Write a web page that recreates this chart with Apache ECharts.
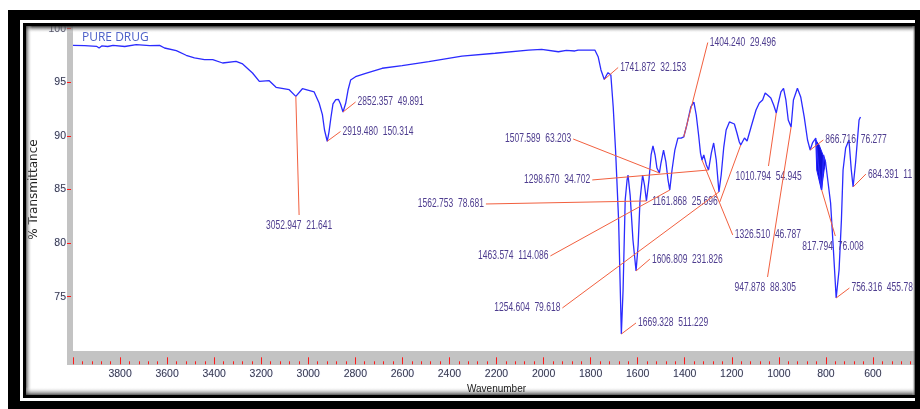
<!DOCTYPE html>
<html>
<head>
<meta charset="utf-8">
<title>PURE DRUG – IR spectrum</title>
<script src="https://cdn.jsdelivr.net/npm/echarts@6/dist/echarts.min.js"></script>
<style>
  html, body { margin: 0; padding: 0; background: #ffffff; }
  #chart { width: 920px; height: 409px; }
</style>
</head>
<body>
<div id="chart"></div>
<script>
// IR spectrum of the pure drug: wavenumber (cm-1) and % transmittance
const wavenumber = [
  4000, 3950, 3900, 3889, 3878, 3852, 3830, 3780, 3731, 3674, 3632, 3611, 3561, 3519, 3484,
  3441, 3406, 3364, 3307, 3279, 3237, 3208, 3166, 3137, 3081, 3052.947, 3025, 2975, 2954, 2940,
  2931, 2919.480, 2912, 2904, 2895, 2883, 2872, 2863, 2852.357, 2841, 2831, 2820, 2799, 2756, 2686,
  2601, 2488, 2347, 2206, 2064, 2008, 1937, 1903, 1867, 1853, 1782, 1768, 1756, 1741.872, 1732,
  1726, 1714, 1704, 1694, 1681, 1669.328, 1662, 1653, 1645, 1641, 1632, 1620, 1606.809, 1598, 1590,
  1579, 1571, 1562.753, 1552, 1543, 1535, 1526, 1518, 1507.589, 1501, 1490, 1480, 1471, 1463.574, 1454,
  1442, 1429, 1415, 1404.240, 1391, 1374, 1361, 1351, 1341, 1333, 1326.510, 1319, 1308, 1298.670, 1287,
  1277, 1266, 1254.604, 1245, 1234, 1224, 1210, 1189, 1178, 1168, 1161.868, 1146, 1135, 1118, 1097,
  1083, 1069, 1058, 1048, 1034, 1022, 1010.794, 1002, 991, 980, 970, 960, 947.878, 938, 921,
  907, 892, 878, 866.716, 857, 843, 832, 817.794, 810, 801, 780, 768, 756.316, 744, 734,
  727, 716, 702, 692, 684.391, 674, 659, 653
];
const transmittance = [
  98.45, 98.43, 98.36, 98.20, 98.39, 98.34, 98.45, 98.34, 98.51, 98.43, 98.45, 98.20, 97.95, 97.52, 97.27,
  97.11, 97.11, 96.80, 96.96, 96.71, 95.87, 95.09, 95.15, 94.53, 94.31, 93.69, 94.40, 94.10, 93.07, 91.98,
  90.55, 89.50, 90.36, 91.67, 92.98, 93.38, 93.41, 92.98, 92.23, 93.04, 94.28, 95.21, 95.52, 95.84, 96.31,
  96.55, 96.92, 97.45, 97.71, 98.01, 98.08, 97.85, 97.97, 97.92, 98.01, 98.01, 97.39, 96.15, 95.26, 95.68,
  95.90, 95.68, 92.72, 88.68, 82.15, 71.52, 75.62, 84.02, 85.89, 86.35, 84.48, 80.29, 77.40, 79.82, 84.02,
  86.35, 85.42, 83.93, 85.89, 88.22, 89.06, 88.22, 87.00, 86.54, 87.47, 88.68, 87.57, 85.89, 84.95, 86.82,
  88.68, 89.80, 89.80, 89.90, 91.02, 92.70, 93.16, 91.95, 90.08, 88.40, 87.75, 88.22, 87.29, 86.82, 88.40,
  89.34, 87.75, 84.77, 86.35, 88.96, 90.55, 91.30, 91.11, 90.27, 89.43, 89.15, 89.80, 89.52, 90.83, 92.42,
  93.07, 93.35, 94.00, 93.82, 93.54, 92.88, 92.14, 93.07, 94.10, 94.44, 93.35, 91.48, 90.83, 93.35, 94.44,
  93.63, 91.76, 89.62, 88.68, 89.34, 89.80, 87.29, 84.95, 88.22, 87.47, 83.74, 79.36, 74.88, 77.49, 82.15,
  86.82, 88.87, 89.62, 86.82, 85.23, 87.47, 91.48, 91.76
];

// filled wedge under the 866/818 doublet
const shadedWn = [843.1, 838.9, 819.0, 807.5, 800.8, 828.7];
const shadedT  = [89.62, 86.82, 84.95, 86.82, 87.57, 89.15];

// peak picks: wavenumber and the value printed beside it
const peakWn = [
  3052.947, 2919.480, 2852.357, 1741.872, 1404.240, 1507.589, 1298.670, 1562.753, 1161.868, 1463.574,
  1606.809, 1669.328, 1254.604, 1326.510, 1010.794, 947.878, 866.716, 817.794, 756.316, 684.391
];
const peakArea = [
  '21.641', '150.314', '49.891', '32.153', '29.496', '63.203', '34.702', '78.681', '25.696', '114.086',
  '231.826', '511.229', '79.618', '46.787', '54.945', '88.305', '76.277', '76.008', '455.78', '11'
];
// where each leader line ends, in axis units
const noteEndWn = [
  3039, 2863, 2799, 1683, 1302, 1874, 1793, 2245, 1251, 1971,
  1548, 1607, 1920, 1196, 1044, 1048, 811, 760, 700, 630
];
const noteEndT = [
  82.62, 90.41, 93.16, 96.38, 98.71, 89.71, 85.89, 83.65, 83.83, 78.80,
  78.51, 72.55, 73.95, 80.76, 87.19, 76.84, 89.62, 80.66, 75.81, 86.44
];
// which side of the leader end the text sits on
const noteSide = [
  'top', 'left', 'left', 'left', 'left', 'right', 'right', 'right', 'right', 'right',
  'left', 'left', 'right', 'left', 'top', 'top', 'left', 'top', 'left', 'left'
];

const NARROW = '"Liberation Sans Narrow", "Arial Narrow", "Liberation Sans", Arial, sans-serif';
const NOTE_FONT = '12.5px "Liberation Sans", Arial, sans-serif';
const NOTE_SQUEEZE = 0.68;   // the peak-pick text is set very condensed
const TICK_RED = '#ff1a1a';
const BAND_GRAY = '#c3c3c3';

const spectrum = wavenumber.map((w, i) => [w, transmittance[i]]);
const tAt = w => transmittance[wavenumber.indexOf(w)];
const notes = peakWn.map((w, i) => [w, tAt(w), noteEndWn[i], noteEndT[i], i]);

function renderNote(params, api) {
  const i = api.value(4);
  const p0 = api.coord([api.value(0), api.value(1)]);
  const p1 = api.coord([api.value(2), api.value(3)]);
  const side = noteSide[i];
  let tx, ty, align;
  if (side === 'top') { tx = p1[0] - 33; ty = p1[1] + 11; align = 'left'; }
  else if (side === 'right') { tx = p1[0] - 2; ty = p1[1]; align = 'right'; }
  else { tx = p1[0] + 2; ty = p1[1]; align = 'left'; }
  const text = peakWn[i].toFixed(3) + '  ' + peakArea[i];
  return {
    type: 'group',
    children: [
      { type: 'line', shape: { x1: p0[0], y1: p0[1], x2: p1[0], y2: p1[1] },
        style: { stroke: '#f2603f', lineWidth: 1 } },
      { type: 'text', x: tx, y: ty, scaleX: NOTE_SQUEEZE,
        style: { text: text, fill: '#4e3d8f', font: NOTE_FONT,
                 align: align, verticalAlign: 'middle',
                 textAlign: align, textVerticalAlign: 'middle',
                 shadowColor: 'rgba(90,110,255,0.35)', shadowBlur: 1 } }
    ]
  };
}

function renderShade(params, api) {
  const pts = shadedWn.map((w, i) => api.coord([w, shadedT[i]]));
  return { type: 'polygon', shape: { points: pts }, style: { fill: '#1010d8', stroke: '#1a1aff', lineWidth: 1 } };
}

// picture frame: black double border with soft inner shadow
function vGrad(c0, c1) { return { type: 'linear', x: 0, y: 0, x2: 0, y2: 1, colorStops: [{ offset: 0, color: c0 }, { offset: 1, color: c1 }] }; }
function hGrad(c0, c1) { return { type: 'linear', x: 0, y: 0, x2: 1, y2: 0, colorStops: [{ offset: 0, color: c0 }, { offset: 1, color: c1 }] }; }
const frame = [
  // axis bands
  { type: 'rect', z: -1, silent: true, shape: { x: 67, y: 26, width: 6, height: 339 }, style: { fill: BAND_GRAY } },
  { type: 'rect', z: -1, silent: true, shape: { x: 67, y: 351, width: 850, height: 14 }, style: { fill: BAND_GRAY } },
  // inner shadows
  { type: 'rect', z: 100, silent: true, shape: { x: 26, y: 26, width: 890, height: 7 }, style: { fill: vGrad('rgba(40,40,40,0.95)', 'rgba(255,255,255,0)') } },
  { type: 'rect', z: 100, silent: true, shape: { x: 26, y: 26, width: 6, height: 370 }, style: { fill: hGrad('rgba(60,60,60,0.8)', 'rgba(255,255,255,0)') } },
  { type: 'rect', z: 100, silent: true, shape: { x: 26, y: 387, width: 890, height: 8 }, style: { fill: vGrad('rgba(255,255,255,0)', 'rgba(60,60,60,0.85)') } },
  { type: 'rect', z: 100, silent: true, shape: { x: 912, y: 26, width: 3, height: 370 }, style: { fill: hGrad('rgba(255,255,255,0)', 'rgba(40,40,40,0.9)') } },
  // inner black line
  { type: 'rect', z: 101, silent: true, shape: { x: 23, y: 23, width: 892, height: 3 }, style: { fill: '#000' } },
  { type: 'rect', z: 101, silent: true, shape: { x: 23, y: 23, width: 3, height: 375 }, style: { fill: '#000' } },
  { type: 'rect', z: 101, silent: true, shape: { x: 23, y: 395, width: 892, height: 3 }, style: { fill: '#000' } },
  // outer black band
  { type: 'rect', z: 101, silent: true, shape: { x: 8, y: 10, width: 912, height: 10 }, style: { fill: '#000' } },
  { type: 'rect', z: 101, silent: true, shape: { x: 8, y: 10, width: 12, height: 399 }, style: { fill: '#000' } },
  { type: 'rect', z: 101, silent: true, shape: { x: 8, y: 401, width: 912, height: 8 }, style: { fill: '#000' } },
  { type: 'rect', z: 101, silent: true, shape: { x: 915, y: 10, width: 5, height: 399 }, style: { fill: '#000' } }
];

const plainNumber = v => String(v);

const chart = echarts.init(document.getElementById('chart'), null, { renderer: 'canvas' });
chart.setOption({
  animation: false,
  backgroundColor: '#ffffff',
  title: {
    text: 'PURE DRUG', left: 77, top: 27,
    textStyle: { color: '#4a5ec8', fontSize: 12, fontWeight: 'normal', fontFamily: '"Open Sans", "Noto Sans", sans-serif' }
  },
  grid: { left: 73, top: 28.7, width: 849.9, height: 321.6, containLabel: false },
  xAxis: {
    type: 'value', inverse: true, min: 400, max: 4000, interval: 200,
    position: 'bottom', offset: 14, z: 102,
    name: 'Wavenumber', nameLocation: 'middle', nameGap: 19,
    nameTextStyle: { color: '#1a1a1a', fontSize: 10, fontFamily: NARROW },
    axisLine: { show: false },
    axisTick: { show: true, inside: true, length: 7, lineStyle: { color: TICK_RED, width: 1 } },
    minorTick: { show: true, splitNumber: 5, length: 3, lineStyle: { color: TICK_RED, width: 1 } },
    splitLine: { show: false },
    axisLabel: {
      color: '#3a3a4a', fontSize: 10.5, fontFamily: NARROW, margin: 4,
      showMinLabel: false, showMaxLabel: false, formatter: plainNumber,
      textShadowColor: 'rgba(90,120,255,0.35)', textShadowBlur: 1
    }
  },
  yAxis: {
    type: 'value', min: 70, max: 100, interval: 5,
    position: 'left', offset: 6,
    name: '% Transmittance', nameLocation: 'middle', nameGap: 27, nameRotate: 90,
    nameMoveOverlap: false,
    nameTextStyle: { color: '#202020', fontSize: 12, fontFamily: '"DejaVu Sans", sans-serif' },
    axisLine: { show: false },
    axisTick: { show: true, inside: true, length: 4, lineStyle: { color: TICK_RED, width: 1 } },
    splitLine: { show: false },
    axisLabel: {
      color: '#3a3a4a', fontSize: 10.5, fontFamily: NARROW, margin: 1,
      showMinLabel: false, formatter: plainNumber,
      textShadowColor: 'rgba(90,120,255,0.35)', textShadowBlur: 1
    }
  },
  graphic: { elements: frame },
  series: [
    {
      type: 'custom', name: 'shaded', z: 2, silent: true, clip: false,
      data: [[shadedWn[0], shadedT[0]]],
      renderItem: renderShade
    },
    {
      type: 'line', name: 'PURE DRUG', z: 3, data: spectrum,
      showSymbol: false, symbol: 'none', smooth: false,
      lineStyle: { color: '#2b2bff', width: 1.3 }
    },
    {
      type: 'custom', name: 'peaks', z: 4, silent: true, clip: false,
      data: notes,
      renderItem: renderNote
    }
  ]
});
</script>
</body>
</html>
